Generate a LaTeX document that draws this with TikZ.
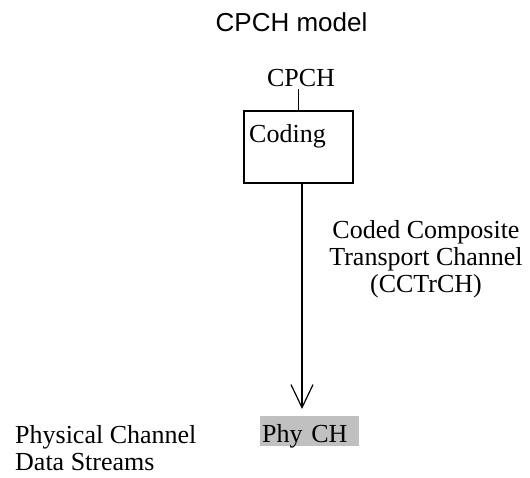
\documentclass[tikz,border=0pt]{standalone}
\usepackage{fontspec}
\setmainfont{Liberation Serif}
\newfontfamily\titlefont{Liberation Sans}
\usetikzlibrary{arrows.meta,positioning}

\begin{document}
\begin{tikzpicture}[
  x=1pt, y=-1pt,
  txt/.style={inner sep=0pt, font=\fontsize{26}{27}\selectfont},
  box/.style={draw, line width=1.5pt, minimum width=109pt,
    minimum height=72pt},
  arr/.style={-{Straight Barb[length=23pt, width=22pt, line width=1.2pt]},
    line width=1.2pt}
]
  \useasboundingbox (0,0) rectangle (530,477);

  \node[txt, font=\fontsize{26}{27}\selectfont\titlefont, anchor=base]
    (title) at (291.5,31.7) {CPCH model};
  \node[txt, anchor=base, inner ysep=3pt] (cpch) at (301,86) {CPCH};
  \node[box] (coding) at (298.5,147) {};
  \node[txt, anchor=base west] (codlbl) at (249,142) {Coding};
  \node[txt, align=center, anchor=base] (cctrch) at (426,292)
    {Coded Composite\\Transport Channel\\(CCTrCH)};
  \node[txt, fill={rgb,255:red,192;green,192;blue,192}, anchor=base west,
    inner xsep=2pt, inner ysep=2pt, text width=95pt, text height=24pt,
    text depth=2pt, align=left] (phy) at (260,442) {Phy CH};
  \node[txt, align=left, anchor=base west] (pcds) at (15,470)
    {Physical Channel\\Data Streams};
  \coordinate (tip) at (302,409);

  \draw[line width=1.2pt] (coding.north) -- (coding.north |- cpch.south);
  \draw[arr] (coding.south -| tip) -- (tip);
\end{tikzpicture}
\end{document}
